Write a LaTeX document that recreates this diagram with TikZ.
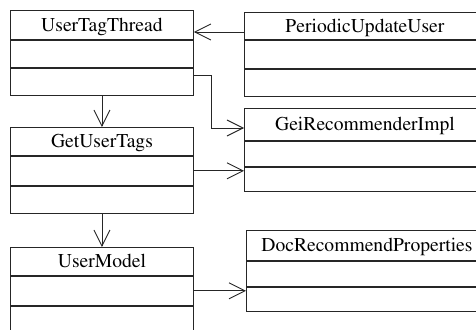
\documentclass[tikz,border=0pt]{standalone}
\usepackage[T1]{fontenc}
\usepackage{times}
\usepackage{tikz}
\usetikzlibrary{positioning,calc,arrows.meta}

\tikzset{
    cls/.style={draw=black!85, line width=0.9pt, inner sep=0pt, minimum height=28pt,
        text height=13pt, text depth=0pt, font=\fontsize{19.6}{22}\selectfont},
    leftcls/.style={cls, minimum width=183pt},
    rightcls/.style={cls, minimum width=241pt},
    dep/.style={draw=black!85, line width=0.9pt, -{Straight Barb[length=16pt,width=16pt,line width=0.9pt]}}
}

\begin{document}
\begin{tikzpicture}[x=1pt,y=-1pt]
    \useasboundingbox (0,0) rectangle (476,329);
    \clip (0,0) rectangle (476,329);

    % left column of classes
    \node[leftcls, anchor=north west, minimum height=29pt] (utt) at (10,10) {UserTagThread};
    \node[leftcls, below=0pt of utt, minimum height=27pt] (utt2) {};
    \node[leftcls, below=0pt of utt2, minimum height=27pt] (utt3) {};

    \node[leftcls, anchor=north west] (gut) at (10,127) {GetUserTags};
    \node[leftcls, below=0pt of gut, minimum height=29pt] (gut2) {};
    \node[leftcls, below=0pt of gut2, minimum height=27pt] (gut3) {};

    \node[leftcls, anchor=north west] (um) at (10,247) {UserModel};
    \node[leftcls, below=0pt of um, minimum height=29pt] (um2) {};
    \node[leftcls, below=0pt of um2, minimum height=40pt] (um3) {};

    % right column of classes
    \node[rightcls, anchor=north west, minimum height=27pt] (puu) at (244,12) {PeriodicUpdateUser};
    \node[rightcls, below=0pt of puu] (puu2) {};
    \node[rightcls, below=0pt of puu2, minimum height=27pt] (puu3) {};

    \node[rightcls, anchor=north west, minimum height=32pt] (gri) at (244,108) {GeiRecommenderImpl};
    \node[rightcls, below=0pt of gri, minimum height=25pt] (gri2) {};
    \node[rightcls, below=0pt of gri2, minimum height=24pt] (gri3) {};

    \node[rightcls, anchor=north west, minimum height=30pt] (drp) at (246,230) {DocRecommendProperties};
    \node[rightcls, below=0pt of drp, minimum height=25pt] (drp2) {};
    \node[rightcls, below=0pt of drp2, minimum height=24pt] (drp3) {};

    % dependencies
    \coordinate (p1) at ($(puu.north west)+(0,20)$);
    \draw[dep] (p1) -- (utt.east |- p1);
    \coordinate (p2) at ($(utt3.north east)+(0,8)$);
    \coordinate (p3) at ($(gri.north west)+(0,20)$);
    \draw[dep] (p2) -- ++(18,0) |- (p3);
    \draw[dep] (gut2.east) -- (gri.west |- gut2.east);
    \draw[dep] (um2.east) -- (drp.west |- um2.east);
    \draw[dep] (utt3.south) -- (gut.north);
    \draw[dep] (gut3.south) -- (um.north);
\end{tikzpicture}
\end{document}
